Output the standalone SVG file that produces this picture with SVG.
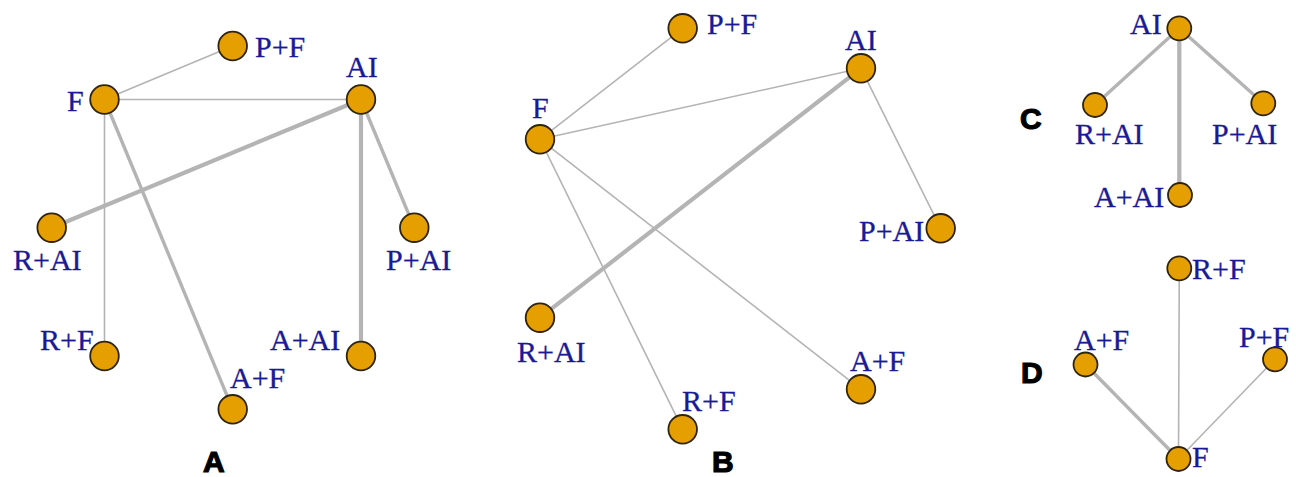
<svg xmlns="http://www.w3.org/2000/svg" width="1296" height="477" viewBox="0 0 1296 477">
  <style>
    .e { stroke: #b4b4b4; fill: none; stroke-linecap: round; }
    .t1 { stroke-width: 1.6; }
    .t3 { stroke-width: 3.4; }
    .t4 { stroke-width: 4.2; }
    .n { fill: #E69F00; stroke: #2e2410; stroke-width: 1.8; }
    .lb { font-family: "Liberation Serif", "Times New Roman", serif; font-size: 30px; fill: #1a1a96; stroke: #1a1a96; stroke-width: 0.3; }
    .pl { font-family: "Liberation Sans", Arial, sans-serif; font-size: 30px; font-weight: bold; fill: #000; stroke: #000; stroke-width: 1.2; }
  </style>
  <rect width="1296" height="477" fill="#ffffff"/>

  <!-- edges -->
  <g id="connectors">
    <!-- panel A -->
    <line class="e t1" x1="104.5" y1="99.5" x2="232.7" y2="46"/>
    <line class="e t1" x1="104.5" y1="99.5" x2="361" y2="99.5"/>
    <line class="e t1" x1="104.5" y1="99.5" x2="104.5" y2="356"/>
    <line class="e t3" x1="104.5" y1="99.5" x2="232.7" y2="409.3"/>
    <line class="e t4" x1="361" y1="99.5" x2="51.7" y2="227.7"/>
    <line class="e t4" x1="361" y1="99.5" x2="361" y2="356"/>
    <line class="e t3" x1="361" y1="99.5" x2="414.3" y2="227.7"/>
    <!-- panel B -->
    <line class="e t1" x1="540" y1="139.3" x2="682.7" y2="28.3"/>
    <line class="e t1" x1="540" y1="139.3" x2="861" y2="68.3"/>
    <line class="e t1" x1="540" y1="139.3" x2="682.7" y2="429.3"/>
    <line class="e t1" x1="540" y1="139.3" x2="861" y2="389.3"/>
    <line class="e t4" x1="861" y1="68.3" x2="540" y2="317.7"/>
    <line class="e t1" x1="861" y1="68.3" x2="940.7" y2="228.3"/>
    <!-- panel C -->
    <line class="e t3" x1="1179.3" y1="28.3" x2="1095" y2="105"/>
    <line class="e t4" x1="1179.3" y1="28.3" x2="1179.3" y2="195"/>
    <line class="e t3" x1="1179.3" y1="28.3" x2="1263.3" y2="103.3"/>
    <!-- panel D -->
    <line class="e t1" x1="1178.5" y1="459" x2="1179.3" y2="268.3"/>
    <line class="e t3" x1="1178.5" y1="459" x2="1085.5" y2="364.5"/>
    <line class="e t1" x1="1178.5" y1="459" x2="1275" y2="359.3"/>
  </g>

  <!-- panel A nodes -->
  <g id="a-pf"><circle class="n" cx="232.7" cy="46" r="14.3"/><text class="lb" x="255" y="57">P+F</text></g>
  <g id="a-f"><circle class="n" cx="104.5" cy="99.5" r="14.3"/><text class="lb" x="67" y="111">F</text></g>
  <g id="a-ai"><circle class="n" cx="361" cy="99.5" r="14.3"/><text class="lb" x="346" y="77">AI</text></g>
  <g id="a-rai"><circle class="n" cx="51.7" cy="227.7" r="14.3"/><text class="lb" x="13" y="270">R+AI</text></g>
  <g id="a-pai"><circle class="n" cx="414.3" cy="227.7" r="14.3"/><text class="lb" x="386" y="270">P+AI</text></g>
  <g id="a-rf"><circle class="n" cx="104.5" cy="356" r="14.3"/><text class="lb" x="40" y="350">R+F</text></g>
  <g id="a-aai"><circle class="n" cx="361" cy="356" r="14.3"/><text class="lb" x="270" y="350">A+AI</text></g>
  <g id="a-af"><circle class="n" cx="232.7" cy="409.3" r="14.3"/><text class="lb" x="230" y="388">A+F</text></g>
  <text class="pl" x="203" y="472">A</text>

  <!-- panel B nodes -->
  <g id="b-pf"><circle class="n" cx="682.7" cy="28.3" r="14.3"/><text class="lb" x="707" y="34">P+F</text></g>
  <g id="b-ai"><circle class="n" cx="861" cy="68.3" r="14.3"/><text class="lb" x="845" y="50">AI</text></g>
  <g id="b-f"><circle class="n" cx="540" cy="139.3" r="14.3"/><text class="lb" x="532" y="118">F</text></g>
  <g id="b-pai"><circle class="n" cx="940.7" cy="228.3" r="14.3"/><text class="lb" x="859" y="241">P+AI</text></g>
  <g id="b-rai"><circle class="n" cx="540" cy="317.7" r="14.3"/><text class="lb" x="517" y="362">R+AI</text></g>
  <g id="b-af"><circle class="n" cx="861" cy="389.3" r="14.3"/><text class="lb" x="850" y="371">A+F</text></g>
  <g id="b-rf"><circle class="n" cx="682.7" cy="429.3" r="14.3"/><text class="lb" x="682" y="411">R+F</text></g>
  <text class="pl" x="712" y="472">B</text>

  <!-- panel C nodes -->
  <g id="c-ai"><circle class="n" cx="1179.3" cy="28.3" r="12"/><text class="lb" x="1130" y="34">AI</text></g>
  <g id="c-rai"><circle class="n" cx="1095" cy="105" r="12"/><text class="lb" x="1075" y="144">R+AI</text></g>
  <g id="c-pai"><circle class="n" cx="1263.3" cy="103.3" r="12"/><text class="lb" x="1212" y="144">P+AI</text></g>
  <g id="c-aai"><circle class="n" cx="1180" cy="195" r="12"/><text class="lb" x="1094" y="207">A+AI</text></g>
  <text class="pl" x="1020" y="129">C</text>

  <!-- panel D nodes -->
  <g id="d-rf"><circle class="n" cx="1179.3" cy="268.3" r="12"/><text class="lb" x="1192" y="279">R+F</text></g>
  <g id="d-af"><circle class="n" cx="1085.5" cy="364.5" r="12"/><text class="lb" x="1074" y="350">A+F</text></g>
  <g id="d-pf"><circle class="n" cx="1275" cy="359.3" r="12"/><text class="lb" x="1239" y="347">P+F</text></g>
  <g id="d-f"><circle class="n" cx="1178.5" cy="459" r="12"/><text class="lb" x="1192" y="467">F</text></g>
  <text class="pl" x="1021" y="383">D</text>
</svg>
